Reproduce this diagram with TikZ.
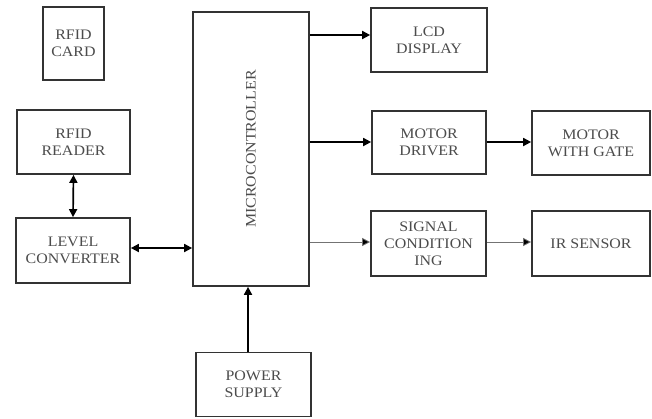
\documentclass[tikz,border=0pt]{standalone}
\usepackage{fontspec}
\setmainfont{Liberation Serif}
\newfontfamily\widefont[FakeStretch=1.1]{Liberation Serif}
\usetikzlibrary{arrows.meta}
\begin{document}
\begin{tikzpicture}[x=1pt,y=-1pt,
  txt/.style={font=\widefont\fontsize{14.5}{17}\selectfont,text=black!70},
  blk/.style={txt,draw=black!80,line width=1.7pt,fill=white,inner sep=0pt,align=center},
  con/.style={line width=1.7pt,-{Triangle[length=8pt,width=8pt]}},
  bicon/.style={line width=1.7pt,{Triangle[length=8pt,width=8pt]}-{Triangle[length=8pt,width=8pt]}},
  thin/.style={line width=0.8pt,draw=black!55,-{Triangle[length=8pt,width=8pt,fill=black]}}]
\useasboundingbox (0,0) rectangle (652,418);
\node[blk,minimum width=61pt,minimum height=73pt] (card) at (73.5,43.5) {RFID\\CARD};
\node[blk,minimum width=113pt,minimum height=64pt] (reader) at (73.5,142) {RFID\\READER};
\node[blk,minimum width=114pt,minimum height=65pt] (conv) at (73,250.5) {LEVEL\\CONVERTER};
\node[blk,minimum width=116pt,minimum height=274pt] (mcu) at (251,149) {};
\node[txt,rotate=90] (mcut) at (mcu.center) {MICROCONTROLLER};
\node[blk,minimum width=115pt,minimum height=64pt] (ps) at (253.5,384.5) {POWER\\SUPPLY};
\node[blk,minimum width=116pt,minimum height=64pt] (lcd) at (429,40) {LCD\\DISPLAY};
\node[blk,minimum width=114pt,minimum height=63pt] (md) at (429,142.5) {MOTOR\\DRIVER};
\node[blk,minimum width=118pt,minimum height=64pt] (mg) at (591,143) {MOTOR\\WITH GATE};
\node[blk,minimum width=115pt,minimum height=65pt] (sc) at (428.5,243.5) {SIGNAL\\CONDITION\\ING};
\node[blk,minimum width=118pt,minimum height=65pt] (ir) at (591,243.5) {IR SENSOR};
\draw[bicon] (reader.south) -- (conv.north);
\draw[bicon] (conv.east|-0,248) -- (mcu.west|-0,248);
\draw[con] (ps.north-|248,0) -- (mcu.south-|248,0);
\draw[con] (mcu.east|-0,35) -- (lcd.west|-0,35);
\draw[con] (mcu.east|-0,142) -- (md.west|-0,142);
\draw[con] (md.east|-0,142) -- (mg.west|-0,142);
\draw[thin] (mcu.east|-0,242) -- (sc.west|-0,242);
\draw[thin] (sc.east|-0,242) -- (ir.west|-0,242);
\end{tikzpicture}
\end{document}
